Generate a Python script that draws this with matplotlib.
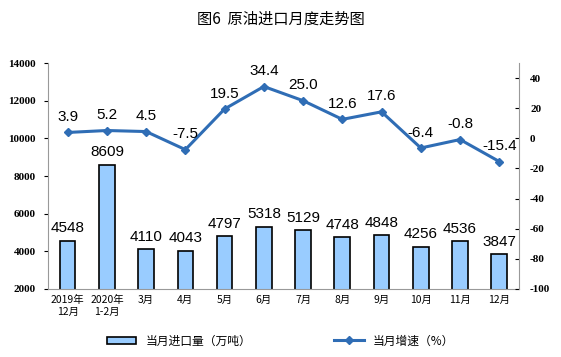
import numpy as np
import matplotlib
matplotlib.use("Agg")
from matplotlib import pyplot as plt
from matplotlib.patches import Patch
from matplotlib.lines import Line2D

plt.rcParams['font.family'] = ['Noto Sans CJK SC', 'DejaVu Sans']
plt.rcParams['axes.unicode_minus'] = False

# -- Data ---------------------------------------------------------------------
months = ["2019年\n12月", "2020年\n1-2月", "3月", "4月", "5月", "6月",
          "7月", "8月", "9月", "10月", "11月", "12月"]
imports = [4548, 8609, 4110, 4043, 4797, 5318, 5129, 4748, 4848, 4256, 4536, 3847]
growth = [3.9, 5.2, 4.5, -7.5, 19.5, 34.4, 25.0, 12.6, 17.6, -6.4, -0.8, -15.4]

bar_color = "#99CCFF"
line_color = "#2F6DB5"
num_font = ['Liberation Sans', 'DejaVu Sans']
tick_font = ['Liberation Serif', 'DejaVu Serif']

fig = plt.figure(figsize=(5.61, 3.57), dpi=100)
ax = fig.add_axes([0.0856, 0.1905, 0.8394, 0.633])
ax2 = ax.twinx()

x = np.arange(len(months))

# -- Bars ---------------------------------------------------------------------
ax.bar(x, imports, width=0.4, bottom=0, color=bar_color, edgecolor="black", linewidth=1.2, zorder=2)
for xi, v in zip(x, imports):
    ax.annotate(str(v), (xi, v), xytext=(0, 4), textcoords="offset points",
                ha="center", va="bottom", fontsize=11, family=num_font)
ax.set_ylim(2000, 14000)
ax.set_yticks(range(2000, 14001, 2000))
ax.set_xlim(-0.5, 11.5)
ax.set_xticks(x)
ax.set_xticklabels(months, fontsize=7.5, linespacing=1.3)
ax.tick_params(axis="x", length=0, pad=4)
ax.tick_params(axis="y", length=3, direction="out", labelsize=8, pad=6)
for lbl in ax.get_yticklabels():
    lbl.set_family(tick_font)
    lbl.set_fontweight("bold")

# -- Line ---------------------------------------------------------------------
ax2.plot(x, growth, color=line_color, linewidth=2.2, marker="D", markersize=4.5, zorder=3)
for xi, v in zip(x, growth):
    ax2.annotate(f"{v:.1f}", (xi, v), xytext=(0, 6), textcoords="offset points",
                 ha="center", va="bottom", fontsize=11, family=num_font)
ax2.set_ylim(-100, 50)
ax2.set_yticks(range(-100, 41, 20))
ax2.tick_params(axis="y", length=3, direction="in", labelsize=8, pad=8)
for lbl in ax2.get_yticklabels():
    lbl.set_family(tick_font)
    lbl.set_fontweight("bold")

for a in (ax, ax2):
    a.spines["top"].set_visible(False)
    for s in ("left", "right", "bottom"):
        a.spines[s].set_color("#999999")
ax.spines["right"].set_visible(False)
ax2.spines["left"].set_visible(False)
ax2.spines["bottom"].set_visible(False)

# -- Title & legend -------------------------------------------------------------
fig.text(0.5, 0.945, "图6  原油进口月度走势图", ha="center", va="center", fontsize=11)

handles = [Patch(facecolor=bar_color, edgecolor="black", linewidth=1.2),
           Line2D([0], [0], color=line_color, linewidth=2.2, marker="D", markersize=4.5)]
fig.legend(handles, ["当月进口量（万吨）", "当月增速（%）"], loc="center",
           bbox_to_anchor=(0.5, 0.045), ncol=2, frameon=False, fontsize=8.5,
           handlelength=2.5, handleheight=0.6, columnspacing=7)

fig.savefig("out.png", dpi=100)
